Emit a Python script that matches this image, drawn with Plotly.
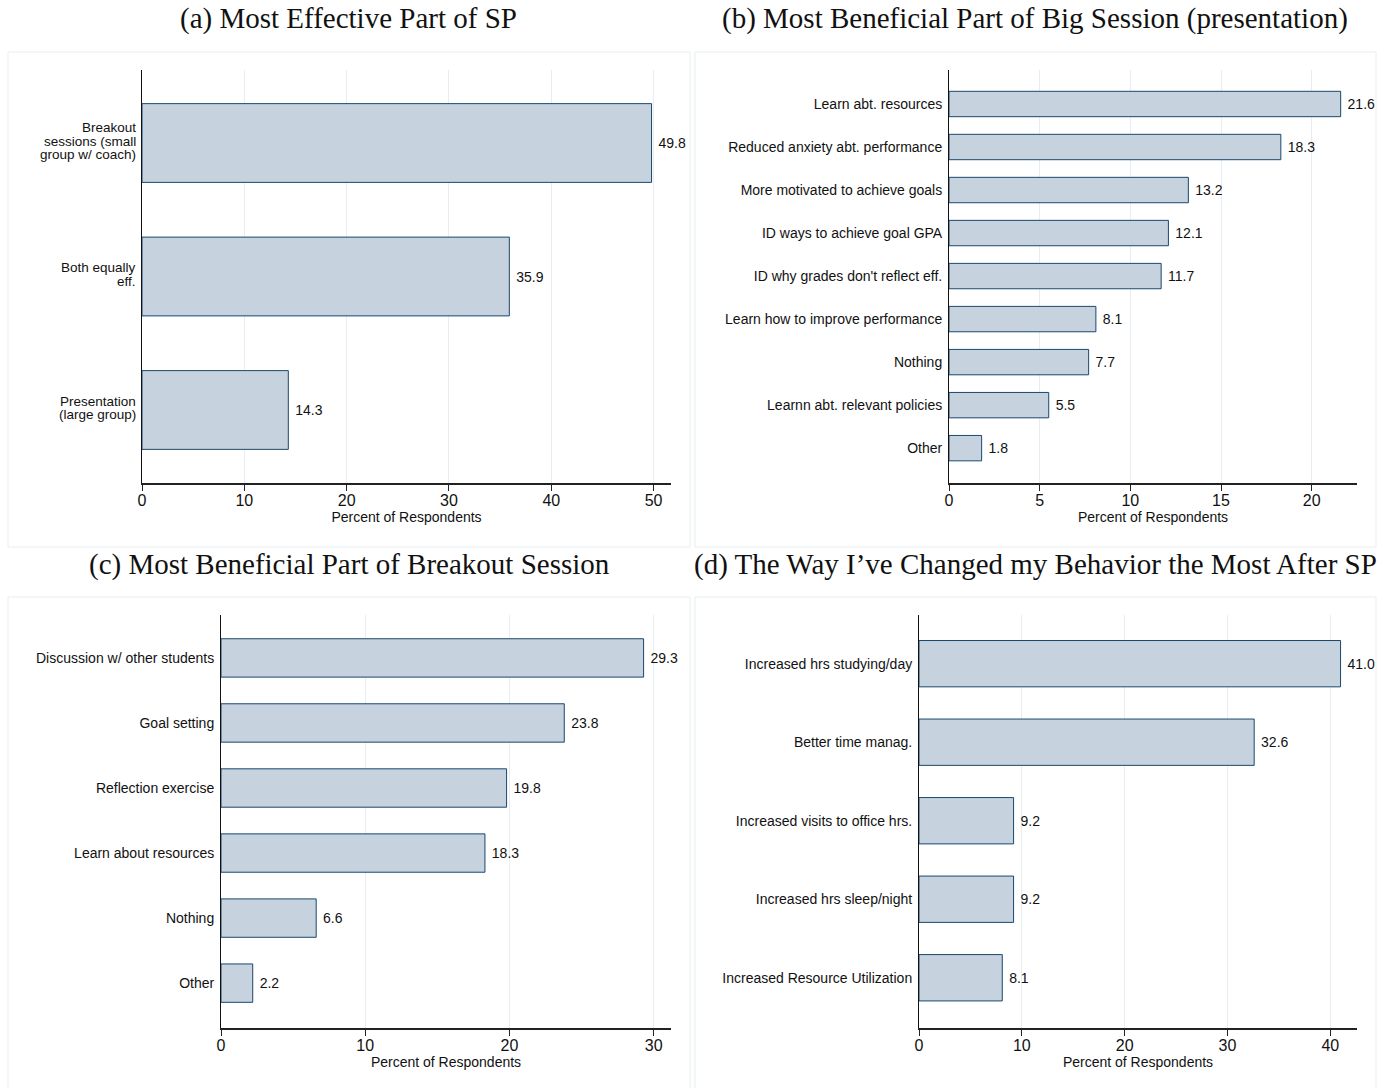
import plotly.graph_objects as go

# ---- data (listed top to bottom as displayed) ----
a_labels = ["Breakout<br>sessions (small<br>group w/ coach)", "Both equally<br>eff.", "Presentation<br>(large group)"]
a_values = [49.8, 35.9, 14.3]

b_labels = ["Learn abt. resources", "Reduced anxiety abt. performance", "More motivated to achieve goals",
            "ID ways to achieve goal GPA", "ID why grades don't reflect eff.", "Learn how to improve performance",
            "Nothing", "Learnn abt. relevant policies", "Other"]
b_values = [21.6, 18.3, 13.2, 12.1, 11.7, 8.1, 7.7, 5.5, 1.8]

c_labels = ["Discussion w/ other students", "Goal setting", "Reflection exercise",
            "Learn about resources", "Nothing", "Other"]
c_values = [29.3, 23.8, 19.8, 18.3, 6.6, 2.2]

d_labels = ["Increased hrs studying/day", "Better time manag.", "Increased visits to office hrs.",
            "Increased hrs sleep/night", "Increased Resource Utilization"]
d_values = [41.0, 32.6, 9.2, 9.2, 8.1]

titles = ["(a) Most Effective Part of SP",
          "(b) Most Beneficial Part of Big Session (presentation)",
          "(c) Most Beneficial Part of Breakout Session",
          "(d) The Way I\u2019ve Changed my Behavior the Most After SP"]
x_title = "Percent of Respondents"

W, H = 1395, 1088
FILL = "#c6d2dd"
EDGE = "#1a476f"
GRID = "#e6eef2"
SANS = "Liberation Sans, Arial, sans-serif"
SERIF = "Liberation Serif, DejaVu Serif, serif"

def fx(px):
    return px / W

def fy(py):
    return 1 - py / H

# panel geometry in pixels: plot area (left, right, top, bottom), x range, ticks, y padding
panels = [
    dict(labels=a_labels, values=a_values, l=142, r=671, t=70, b=483, xmax=51.7, dtick=10,
         pad=(0.547, 0.547), wrap=True),
    dict(labels=b_labels, values=b_values, l=949, r=1357, t=70, b=483, xmax=22.5, dtick=5,
         pad=(0.81, 0.79), wrap=False),
    dict(labels=c_labels, values=c_values, l=221, r=671, t=615, b=1028, xmax=31.2, dtick=10,
         pad=(0.69, 0.66), wrap=False),
    dict(labels=d_labels, values=d_values, l=919, r=1357, t=615, b=1028, xmax=42.6, dtick=10,
         pad=(0.64, 0.62), wrap=False),
]

fig = go.Figure()
layout = {}
annotations = []
LINE_GAP = 13.5  # line spacing for wrapped category labels

for i, p in enumerate(panels):
    n = i + 1
    xa = "x" if n == 1 else f"x{n}"
    ya = "y" if n == 1 else f"y{n}"
    fig.add_trace(go.Bar(
        x=p["values"], y=p["labels"], orientation="h",
        xaxis=xa, yaxis=ya,
        width=0.59,
        marker=dict(color=FILL, line=dict(color=EDGE, width=1)),
        text=[f" {v:.1f}" for v in p["values"]],
        textposition="outside", constraintext="none",
        textfont=dict(family=SANS, size=14, color="#111"),
        cliponaxis=False, showlegend=False, hoverinfo="skip",
    ))
    k = len(p["labels"])
    layout["xaxis" if n == 1 else f"xaxis{n}"] = dict(
        domain=[fx(p["l"]), fx(p["r"])], anchor=ya,
        range=[0, p["xmax"]], dtick=p["dtick"], tick0=0,
        showgrid=True, gridcolor=GRID, gridwidth=1,
        showline=True, linecolor="#222", linewidth=1.5,
        ticks="outside", ticklen=6, tickcolor="#222", tickwidth=1,
        ticklabelstandoff=-4,
        tickfont=dict(family=SANS, size=16, color="#111"),
        zeroline=False, automargin=False,
        title=dict(text=x_title, font=dict(family=SANS, size=14, color="#111"), standoff=2),
        fixedrange=True,
    )
    layout["yaxis" if n == 1 else f"yaxis{n}"] = dict(
        domain=[fy(p["b"]), fy(p["t"])], anchor=xa,
        type="category", categoryorder="array", categoryarray=p["labels"][::-1],
        range=[-p["pad"][0], k - 1 + p["pad"][1]],
        showgrid=False, showline=True, linecolor="#111", linewidth=1,
        ticks="", ticklabelstandoff=3, showticklabels=not p["wrap"],
        tickfont=dict(family=SANS, size=14, color="#111"),
        zeroline=False, fixedrange=True, automargin=False,
    )
    if p["wrap"]:
        # wrapped category names, set line by line with tighter leading
        for lab in p["labels"]:
            lines = lab.split("<br>")
            m = len(lines)
            for j, line in enumerate(lines):
                annotations.append(dict(
                    text=line, x=0, y=lab, xref=xa, yref=ya,
                    xanchor="right", yanchor="middle", xshift=-4,
                    yshift=((m - 1) / 2 - j) * LINE_GAP + 2,
                    showarrow=False,
                    font=dict(family=SANS, size=13.5, color="#111"),
                ))

# panel titles
title_pos = [(348, 18), (1035, 18), (349, 564), (1035, 564)]
for t, (cx, cy) in zip(titles, title_pos):
    annotations.append(dict(text=t, x=fx(cx), y=fy(cy), xref="paper", yref="paper",
                            xanchor="center", yanchor="middle", showarrow=False,
                            font=dict(family=SERIF, size=29, color="#111")))

# faint frames around each panel
boxes = [(8, 690, 52, 547), (695, 1376, 52, 547), (8, 690, 597, 1100), (695, 1376, 597, 1100)]
shapes = [dict(type="rect", xref="paper", yref="paper",
               x0=fx(x0), x1=fx(x1), y0=fy(y1), y1=fy(y0),
               line=dict(color="#e8eef1", width=1), layer="below")
          for x0, x1, y0, y1 in boxes]

fig.update_layout(
    width=W, height=H,
    margin=dict(l=0, r=0, t=0, b=0, autoexpand=False),
    paper_bgcolor="white", plot_bgcolor="white",
    annotations=annotations, shapes=shapes,
    **layout,
)

fig.write_html("out.html")
